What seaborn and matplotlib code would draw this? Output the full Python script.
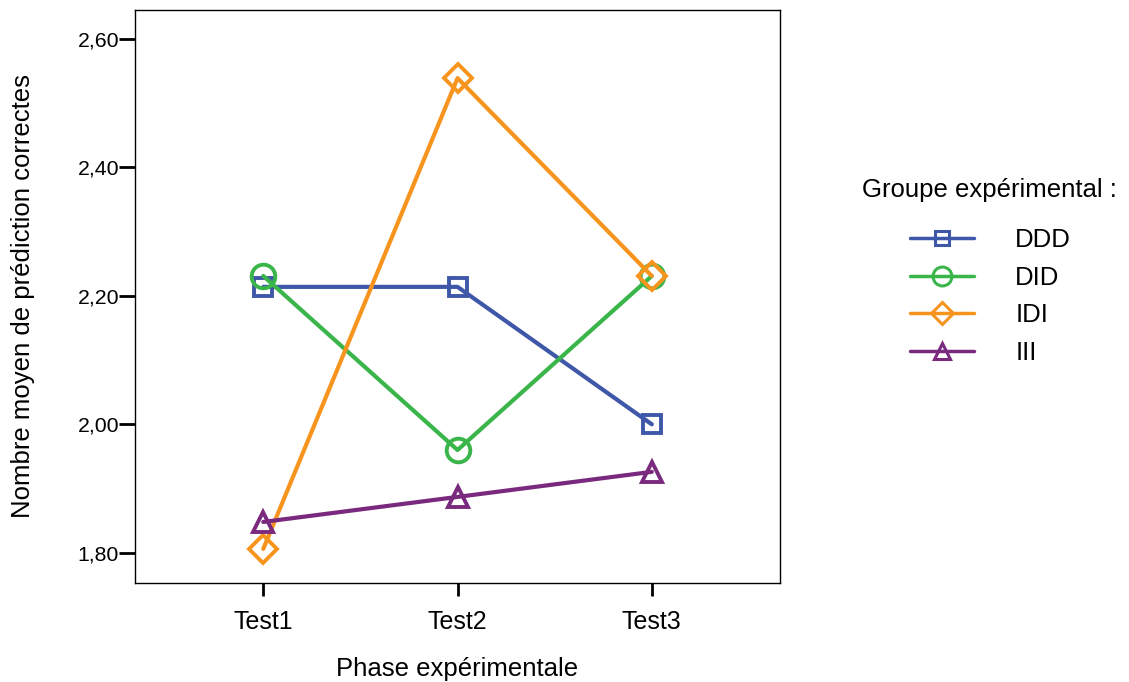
import seaborn as sns
import matplotlib.pyplot as plt
import pandas as pd
from matplotlib.lines import Line2D

# données
phases = ['Test1', 'Test2', 'Test3']
groupes = ['DDD', 'DID', 'IDI', 'III']
ddd = [2.214, 2.214, 2.000]
did = [2.231, 1.960, 2.231]
idi = [1.806, 2.539, 2.231]
iii = [1.848, 1.887, 1.926]
y_ticks = [1.80, 2.00, 2.20, 2.40, 2.60]
y_tick_labels = ['1,80', '2,00', '2,20', '2,40', '2,60']

couleurs = {'DDD': '#3F57A8', 'DID': '#3AB54A', 'IDI': '#F7941D', 'III': '#7A2A7E'}
marqueurs = {'DDD': 's', 'DID': 'o', 'IDI': 'D', 'III': '^'}
tailles = {'DDD': 13, 'DID': 17, 'IDI': 14, 'III': 15}

rows = []
for g, vals in zip(groupes, [ddd, did, idi, iii]):
    for p, v in zip(phases, vals):
        rows.append({'Phase': p, 'Score': v, 'Groupe': g})
df = pd.DataFrame(rows)

sns.set_style('white')
plt.rcParams['font.family'] = ['Liberation Sans', 'DejaVu Sans']
plt.rcParams['text.color'] = 'black'
plt.rcParams['axes.labelcolor'] = 'black'

fig = plt.figure(figsize=(11.29, 6.82), dpi=100)
ax = fig.add_axes([0.1196, 0.1452, 0.5713, 0.8401])

sns.lineplot(data=df, x='Phase', y='Score', hue='Groupe', style='Groupe',
             palette=couleurs, markers=marqueurs, dashes=False, sort=False,
             linewidth=3, legend=False, ax=ax)

# marqueurs creux
for line, g in zip(ax.lines, groupes):
    c = couleurs[g]
    line.set_markerfacecolor('none')
    line.set_markeredgecolor(c)
    line.set_markeredgewidth(2.8)
    line.set_markersize(tailles[g])

ax.set_xlim(-0.66, 2.66)
ax.set_ylim(1.753, 2.645)
ax.set_yticks(y_ticks)
ax.set_yticklabels(y_tick_labels)
ax.tick_params(axis='both', which='both', direction='out', width=2,
               left=True, bottom=True, colors='black')
ax.tick_params(axis='y', labelsize=15.3, length=11.5, pad=0)
ax.tick_params(axis='x', labelsize=18, length=9.4, pad=10)
for s in ax.spines.values():
    s.set_visible(True)
    s.set_color('black')
    s.set_linewidth(1)

ax.set_xlabel('Phase expérimentale', fontsize=18.5, labelpad=16.5)
ax.set_ylabel('Nombre moyen de prédiction correctes', fontsize=18.5, labelpad=31)

fig.text(862 / 1129, 1 - 190 / 682, 'Groupe expérimental :', fontsize=18.5,
         ha='left', va='center', color='black')
handles = [Line2D([0], [0], color=couleurs[g], marker=marqueurs[g], lw=2.5,
                  markersize=tailles[g] * 0.8, markerfacecolor='none',
                  markeredgecolor=couleurs[g], markeredgewidth=2.2)
           for g in groupes]
leg = fig.legend(handles, groupes, loc='upper left',
                 bbox_to_anchor=(910 / 1129, 1 - 228 / 682), frameon=False,
                 fontsize=18.5, handlelength=2.5, handletextpad=1.6,
                 labelspacing=0.53, borderaxespad=0, borderpad=0)
for t in leg.get_texts():
    t.set_color('black')

fig.savefig('out.png', dpi=100)
